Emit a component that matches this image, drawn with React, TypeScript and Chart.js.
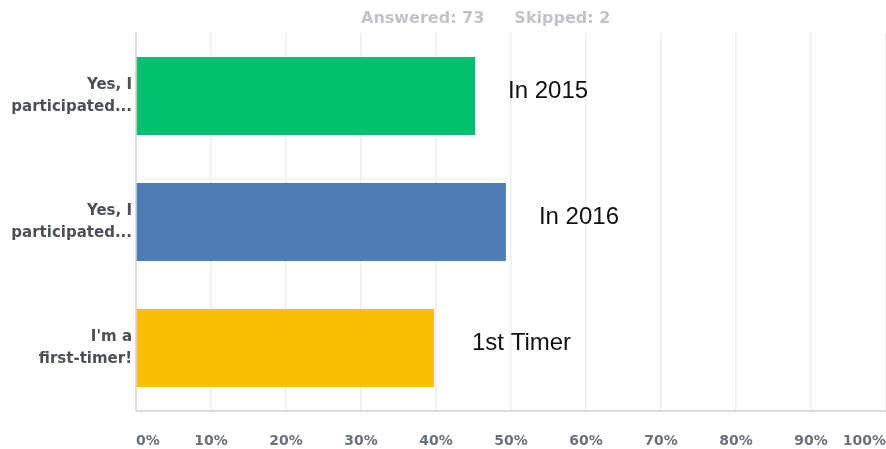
import React, { useEffect, useRef } from "react";
import { Chart, registerables } from "chart.js";

Chart.register(...registerables);

const categories: string[][] = [
  ["Yes, I", "participated..."],
  ["Yes, I", "participated..."],
  ["I'm a", "first-timer!"],
];
const percentages: number[] = [45.21, 49.32, 39.73];
const annotations: string[] = ["In 2015", "In 2016", "1st Timer"];
const barColors: string[] = ["#00bf6f", "#507cb6", "#f9be00"];
const headerParts: string[] = ["Answered: 73", "Skipped: 2"];
const xTicks: number[] = [0, 10, 20, 30, 40, 50, 60, 70, 80, 90, 100];

const annotationPlugin = {
  id: "barAnnotations",
  afterDatasetsDraw(chart: any) {
    const ctx = chart.ctx;
    const meta = chart.getDatasetMeta(0);
    ctx.save();
    ctx.font = '24px "Liberation Sans", Arial, sans-serif';
    ctx.fillStyle = "#111111";
    ctx.textBaseline = "middle";
    ctx.textAlign = "left";
    meta.data.forEach((bar: any, i: number) => {
      const off = i === 2 ? 38 : 33;
      ctx.fillText(annotations[i], bar.x + off, bar.y - 5);
    });
    ctx.restore();
  },
};

const headerPlugin = {
  id: "header",
  afterDraw(chart: any) {
    const ctx = chart.ctx;
    const area = chart.chartArea;
    ctx.save();
    ctx.font = 'bold 16px "DejaVu Sans", sans-serif';
    ctx.fillStyle = "#c0c4c8";
    ctx.textBaseline = "middle";
    ctx.textAlign = "left";
    let x = area.left + (area.right - area.left) * 0.3;
    const y = area.top - 14;
    headerParts.forEach((t) => {
      ctx.fillText(t, x, y);
      x += ctx.measureText(t).width + 30;
    });
    ctx.restore();
  },
};

export default function App() {
  const ref = useRef<HTMLCanvasElement | null>(null);
  useEffect(() => {
    if (!ref.current) return;
    const chart = new Chart(ref.current, {
      type: "bar",
      data: {
        labels: categories,
        datasets: [
          {
            data: percentages,
            backgroundColor: barColors,
            borderWidth: 0,
            categoryPercentage: 1,
            barPercentage: 0.62,
          },
        ],
      },
      options: {
        indexAxis: "y",
        animation: false,
        responsive: true,
        maintainAspectRatio: false,
        layout: { padding: { top: 33, right: 0, left: 0, bottom: 0 } },
        plugins: {
          legend: { display: false },
          tooltip: { enabled: false },
          title: { display: false },
        },
        scales: {
          x: {
            min: 0,
            max: 100,
            afterBuildTicks: (scale: any) => {
              scale.ticks = xTicks.map((v) => ({ value: v }));
            },
            afterFit: (scale: any) => {
              scale.height = 38;
              scale.paddingLeft = 0;
              scale.paddingRight = 0;
            },
            grid: { color: "#eeeeee", lineWidth: 1.5, drawTicks: false },
            border: { color: "#dcdcdc", width: 2 },
            ticks: {
              align: "inner",
              padding: 22,
              color: "#6b7178",
              font: { family: '"DejaVu Sans", sans-serif', size: 14, weight: "bold" },
              callback: (v: any) => v + "%",
            },
          },
          y: {
            afterFit: (scale: any) => {
              scale.width = 136;
            },
            grid: { display: false, drawTicks: false },
            border: { color: "#dcdcdc", width: 2 },
            ticks: {
              padding: 4,
              color: "#4c5157",
              font: { family: '"DejaVu Sans", sans-serif', size: 15, weight: "bold", lineHeight: 1.5 },
            },
          },
        },
      },
      plugins: [annotationPlugin, headerPlugin],
    } as any);
    return () => chart.destroy();
  }, []);
  return (
    <div style={{ position: "fixed", left: 0, top: 0, width: 886, height: 449, background: "#fff" }}>
      <canvas ref={ref} />
    </div>
  );
}
